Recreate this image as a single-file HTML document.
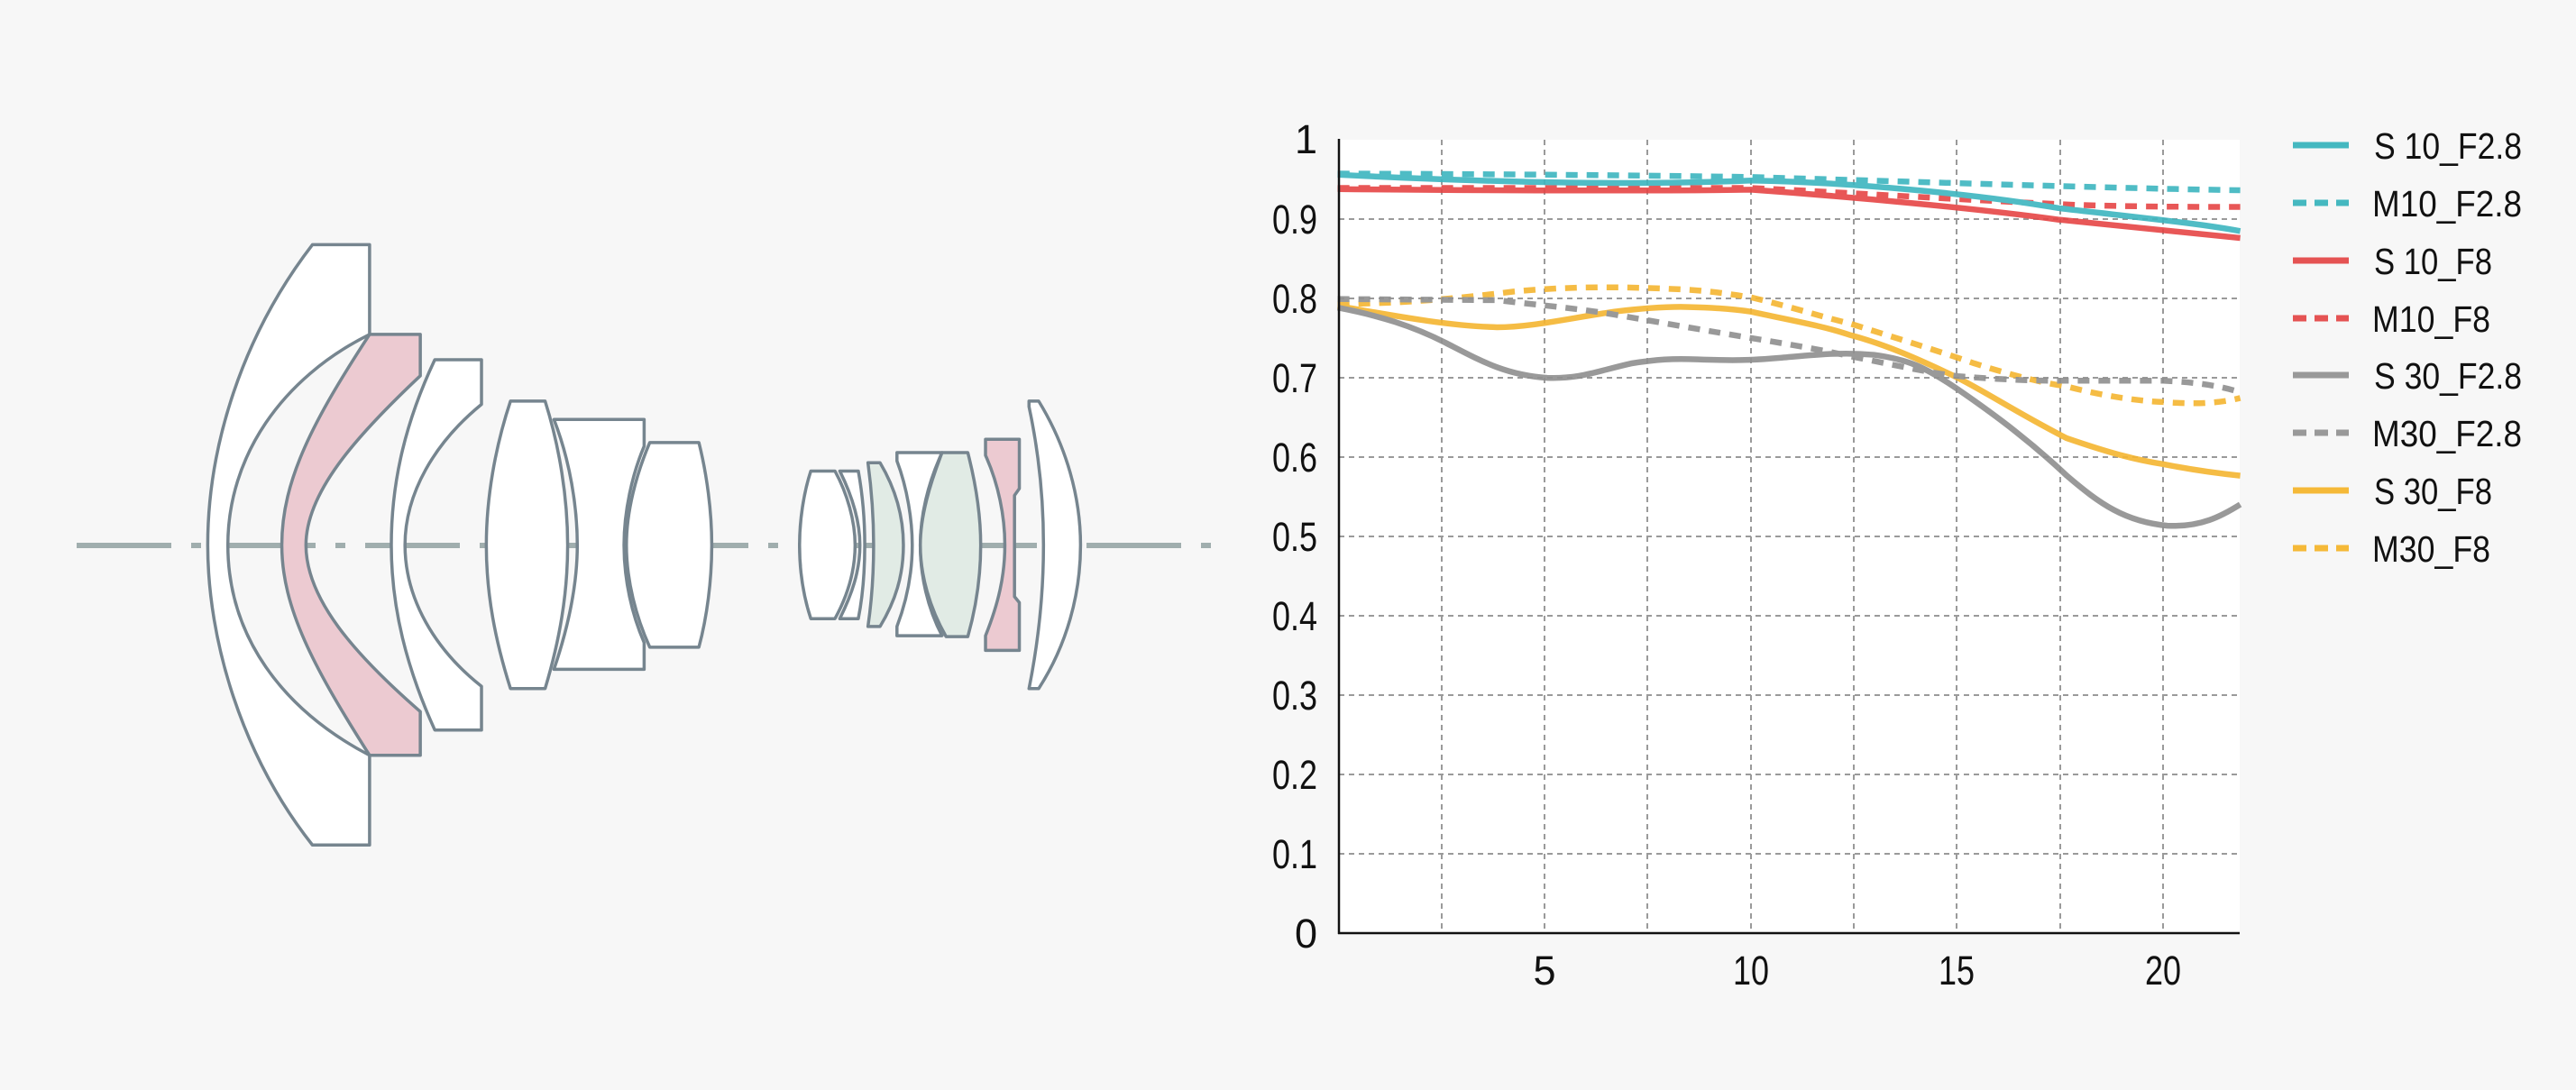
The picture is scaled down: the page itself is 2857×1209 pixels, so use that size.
<!DOCTYPE html>
<html><head><meta charset="utf-8"><style>
html,body{margin:0;padding:0;background:#f7f7f7;}
svg{display:block;}
text{font-family:"Liberation Sans Narrow","Liberation Sans",sans-serif;fill:#111;}
</style></head><body>
<svg width="2857" height="1209" viewBox="0 0 2857 1209" xmlns="http://www.w3.org/2000/svg">
<rect width="2857" height="1209" fill="#f7f7f7"/>
<line x1="85" y1="605" x2="1344" y2="605" stroke="#a0aeae" stroke-width="6" stroke-dasharray="105 22 11 22"/>
<g transform="translate(0,200) scale(0.893,0.5102)" fill="#fff" stroke="#76858f" stroke-width="3.5" stroke-linejoin="round">
<path vector-effect="non-scaling-stroke" d="M388,140 L459,140 L459,335 C350,430 283,600 283,793 C283,990 350,1150 459,1250 L459,1445 L388,1445 C300,1250 258,1000 258,793 C258,580 300,340 388,140Z"/>
<path vector-effect="non-scaling-stroke" fill="#eccad1" d="M459,335 L522,335 L522,425 C440,560 380,680 380,793 C380,910 440,1030 522,1155 L522,1250 L459,1250 C390,1060 350,930 350,793 C350,650 390,520 459,335Z"/>
<path vector-effect="non-scaling-stroke" d="M540,390 L598,390 L598,487 C540,570 503,680 503,793 C503,910 540,1020 598,1100 L598,1195 L540,1195 C505,1060 486,930 486,793 C486,650 505,520 540,390Z"/>
<path vector-effect="non-scaling-stroke" d="M634,480 L677,480 C695,580 705,690 705,793 C705,900 695,1000 677,1105 L634,1105 C615,1000 604,900 604,793 C604,690 615,580 634,480Z"/>
<path vector-effect="non-scaling-stroke" d="M688,520 L800,520 L800,578 C785,640 775,720 775,793 C775,870 785,945 800,1005 L800,1063 L688,1063 C708,960 717,870 717,793 C717,710 708,610 688,520Z"/>
<path vector-effect="non-scaling-stroke" d="M807,570 L868,570 C878,640 884,720 884,793 C884,870 878,950 868,1015 L807,1015 C790,950 778,870 778,793 C778,720 790,640 807,570Z"/>
<path vector-effect="non-scaling-stroke" d="M1007,632 L1037,632 C1052,680 1062,740 1062,793 C1062,850 1052,905 1037,953 L1007,953 C998,905 993,850 993,793 C993,740 998,680 1007,632Z"/>
<path vector-effect="non-scaling-stroke" d="M1043,632 L1066,632 C1072,690 1074,740 1074,793 C1074,850 1072,900 1066,953 L1043,953 C1058,900 1068,850 1068,793 C1068,740 1058,685 1043,632Z"/>
<path vector-effect="non-scaling-stroke" fill="#e1ebe5" d="M1078,614 L1093,614 C1112,670 1122,730 1122,793 C1122,860 1112,915 1093,970 L1078,970 C1083,910 1085,850 1085,793 C1085,740 1083,680 1078,614Z"/>
<path vector-effect="non-scaling-stroke" d="M1114,592 L1170,592 C1152,660 1143,730 1143,793 C1143,860 1152,930 1170,990 L1114,990 L1114,970 C1127,910 1133,850 1133,793 C1133,740 1127,670 1114,610Z"/>
<path vector-effect="non-scaling-stroke" fill="#e1ebe5" d="M1170,592 L1202,592 C1212,660 1218,730 1218,793 C1218,860 1212,930 1202,992 L1175,992 C1155,930 1143,860 1143,793 C1143,730 1155,660 1170,592Z"/>
<path vector-effect="non-scaling-stroke" fill="#eccad1" d="M1224,563 L1266,563 L1266,670 L1260,685 L1260,905 L1266,918 L1266,1022 L1224,1022 L1224,990 C1240,920 1248,860 1248,793 C1248,730 1240,660 1224,598Z"/>
<path vector-effect="non-scaling-stroke" d="M1278,480 L1290,480 C1325,580 1342,690 1342,793 C1342,900 1325,1010 1290,1105 L1278,1105 C1290,1000 1296,900 1296,793 C1296,690 1290,590 1278,492Z"/>
</g>

<rect x="1485" y="155" width="999" height="880" fill="#fff"/>
<g stroke="#9a9a9a" stroke-width="2" stroke-dasharray="6 5">
<line x1="1485" y1="243" x2="2484" y2="243"/><line x1="1485" y1="331" x2="2484" y2="331"/>
<line x1="1485" y1="419" x2="2484" y2="419"/><line x1="1485" y1="507" x2="2484" y2="507"/>
<line x1="1485" y1="595" x2="2484" y2="595"/><line x1="1485" y1="683" x2="2484" y2="683"/>
<line x1="1485" y1="771" x2="2484" y2="771"/><line x1="1485" y1="859" x2="2484" y2="859"/>
<line x1="1485" y1="947" x2="2484" y2="947"/>
<line x1="1599" y1="155" x2="1599" y2="1035"/><line x1="1713" y1="155" x2="1713" y2="1035"/>
<line x1="1827" y1="155" x2="1827" y2="1035"/><line x1="1942" y1="155" x2="1942" y2="1035"/>
<line x1="2056" y1="155" x2="2056" y2="1035"/><line x1="2170" y1="155" x2="2170" y2="1035"/>
<line x1="2285" y1="155" x2="2285" y2="1035"/><line x1="2399" y1="155" x2="2399" y2="1035"/>
</g>
<g transform="translate(1400,100) scale(0.9294,0.6382)" fill="none" stroke-width="6.5" stroke-linejoin="round" stroke-linecap="butt" opacity="0.9">
<path vector-effect="non-scaling-stroke" stroke="#f5b530" stroke-dasharray="13 10" d="M90,372 C150,370 200,368 300,350 C360,342 420,340 510,347 C540,350 560,355 583,360 C640,380 670,395 700,405 C750,428 800,450 850,475 C900,498 930,508 960,515 C1000,530 1040,540 1075,542 C1110,546 1140,545 1167,535"/>
<path vector-effect="non-scaling-stroke" stroke="#f5b530" d="M90,375 C150,390 220,410 280,412 C320,412 360,398 420,385 C460,378 490,376 510,377 C540,378 560,380 583,385 C630,400 670,410 700,425 C740,440 780,465 830,500 C870,530 900,560 960,605 C1010,630 1040,642 1075,650 C1110,660 1140,666 1167,670"/>
<path vector-effect="non-scaling-stroke" stroke="#8f8f8f" stroke-dasharray="13 10" d="M90,363 L280,365 C340,375 380,380 420,390 C480,405 530,418 580,430 C630,442 670,452 700,462 C750,476 790,490 830,497 C880,503 920,505 950,505 L1075,505 C1120,508 1145,515 1167,525"/>
<path vector-effect="non-scaling-stroke" stroke="#8f8f8f" d="M90,378 C140,392 180,410 220,440 C260,470 290,495 340,500 C380,502 400,488 440,475 C470,468 490,466 520,468 C560,470 580,470 620,465 C660,460 690,455 730,460 C770,468 790,480 830,520 C880,570 920,615 960,670 C1000,720 1030,750 1080,757 C1120,760 1145,740 1167,720"/>
<path vector-effect="non-scaling-stroke" stroke="#e64545" stroke-dasharray="13 10" d="M90,170 L583,170 C700,178 800,188 950,198 C1000,202 1100,203 1167,203"/>
<path vector-effect="non-scaling-stroke" stroke="#e64545" d="M90,172 C300,175 500,175 583,173 C700,185 850,205 950,225 C1050,240 1120,250 1167,257"/>
<path vector-effect="non-scaling-stroke" stroke="#3db5bf" stroke-dasharray="13 10" d="M90,145 C300,146 450,148 583,151 C800,160 1000,170 1167,174"/>
<path vector-effect="non-scaling-stroke" stroke="#3db5bf" d="M90,147 C300,162 450,165 583,157 C700,160 850,180 950,205 C1050,222 1120,232 1167,245"/>
</g>
<line x1="1485" y1="154" x2="1485" y2="1036" stroke="#111" stroke-width="2.5"/>
<line x1="1484" y1="1035" x2="2484" y2="1035" stroke="#111" stroke-width="2.5"/>
<g font-size="45" text-anchor="end">
<text x="1461" y="170">1</text>
<text x="1461" y="259" textLength="50" lengthAdjust="spacingAndGlyphs">0.9</text>
<text x="1461" y="347" textLength="50" lengthAdjust="spacingAndGlyphs">0.8</text>
<text x="1461" y="435" textLength="50" lengthAdjust="spacingAndGlyphs">0.7</text>
<text x="1461" y="523" textLength="50" lengthAdjust="spacingAndGlyphs">0.6</text>
<text x="1461" y="611" textLength="50" lengthAdjust="spacingAndGlyphs">0.5</text>
<text x="1461" y="699" textLength="50" lengthAdjust="spacingAndGlyphs">0.4</text>
<text x="1461" y="787" textLength="50" lengthAdjust="spacingAndGlyphs">0.3</text>
<text x="1461" y="875" textLength="50" lengthAdjust="spacingAndGlyphs">0.2</text>
<text x="1461" y="963" textLength="50" lengthAdjust="spacingAndGlyphs">0.1</text>
<text x="1461" y="1051">0</text>
</g>
<g font-size="45" text-anchor="middle">
<text x="1713" y="1092">5</text>
<text x="1942" y="1092" textLength="40" lengthAdjust="spacingAndGlyphs">10</text>
<text x="2170" y="1092" textLength="40" lengthAdjust="spacingAndGlyphs">15</text>
<text x="2399" y="1092" textLength="40" lengthAdjust="spacingAndGlyphs">20</text>
</g>
<g stroke-width="7">
<line x1="2543" y1="161" x2="2605" y2="161" stroke="#45b8c0"/>
<line x1="2543" y1="225" x2="2605" y2="225" stroke="#45b8c0" stroke-dasharray="15 9"/>
<line x1="2543" y1="289" x2="2605" y2="289" stroke="#e55353"/>
<line x1="2543" y1="353" x2="2605" y2="353" stroke="#e55353" stroke-dasharray="15 9"/>
<line x1="2543" y1="416" x2="2605" y2="416" stroke="#999"/>
<line x1="2543" y1="480" x2="2605" y2="480" stroke="#999" stroke-dasharray="15 9"/>
<line x1="2543" y1="544" x2="2605" y2="544" stroke="#f5b938"/>
<line x1="2543" y1="608" x2="2605" y2="608" stroke="#f5b938" stroke-dasharray="15 9"/>
</g>
<g font-size="41">
<text x="2633" y="176" textLength="164" lengthAdjust="spacingAndGlyphs">S 10_F2.8</text>
<text x="2631" y="240" textLength="166" lengthAdjust="spacingAndGlyphs">M10_F2.8</text>
<text x="2633" y="304" textLength="131" lengthAdjust="spacingAndGlyphs">S 10_F8</text>
<text x="2631" y="368" textLength="131" lengthAdjust="spacingAndGlyphs">M10_F8</text>
<text x="2633" y="431" textLength="164" lengthAdjust="spacingAndGlyphs">S 30_F2.8</text>
<text x="2631" y="495" textLength="166" lengthAdjust="spacingAndGlyphs">M30_F2.8</text>
<text x="2633" y="559" textLength="131" lengthAdjust="spacingAndGlyphs">S 30_F8</text>
<text x="2631" y="623" textLength="131" lengthAdjust="spacingAndGlyphs">M30_F8</text>
</g>
</svg>
</body></html>
